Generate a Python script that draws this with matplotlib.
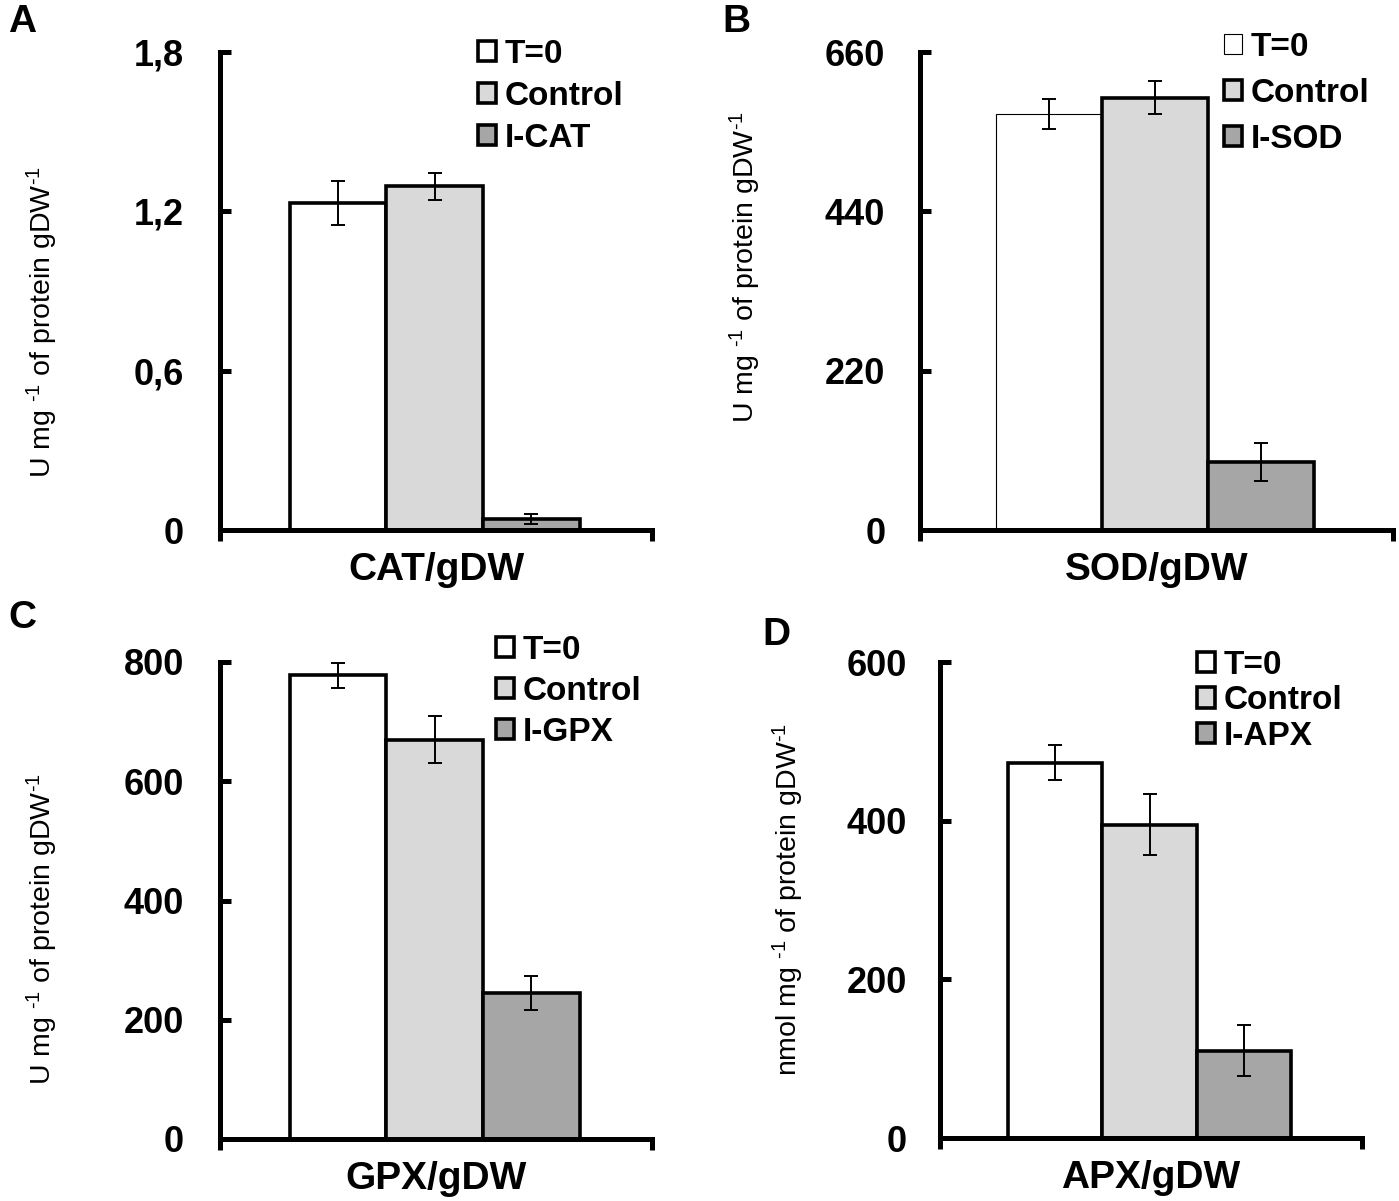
import matplotlib
matplotlib.use("Agg")
import matplotlib.pyplot as plt

# ---- data ----
groups = ["T=0", "Control"]
cat_mean = [1.23, 1.295, 0.042]
cat_err = [0.083, 0.051, 0.02]
sod_mean = [574, 597, 94]
sod_err = [21, 23, 26]
gpx_mean = [778, 670, 245]
gpx_err = [21, 40, 29]
apx_mean = [473, 395, 110]
apx_err = [22, 38, 32]

cat_ticks = [0, 0.6, 1.2, 1.8]
cat_ticklabels = ["0", "0,6", "1,2", "1,8"]
sod_ticks = [0, 220, 440, 660]
gpx_ticks = [0, 200, 400, 600, 800]
apx_ticks = [0, 200, 400, 600]

W, H = 1399, 1201
COLORS = ["#ffffff", "#d9d9d9", "#a6a6a6"]
FONT = "Liberation Sans"

plt.rcParams.update({
    "font.family": FONT,
    "mathtext.fontset": "custom",
    "mathtext.rm": FONT,
    "mathtext.it": FONT + ":italic",
    "mathtext.bf": FONT + ":bold",
})

fig = plt.figure(figsize=(W / 100, H / 100), dpi=100)
fig.patch.set_facecolor("white")

U_LABEL = r"U mg $^{\text{-1}}$ of protein gDW$^{\text{-1}}$"
N_LABEL = r"nmol mg $^{\text{-1}}$ of protein gDW$^{\text{-1}}$"

# rect in pixels: left, top, right, bottom ; legend anchor px ; ylabel coords
panels = [
    dict(letter="A", letter_xy=(8, 22), rect=(220, 52, 652, 530), mean=cat_mean, err=cat_err,
         ticks=cat_ticks, ticklabels=cat_ticklabels, third="I-CAT", xlabel="CAT/gDW",
         ylabel=U_LABEL, ylab_xy=(-0.41, 0.435), leg=(478, 39), lspace=0.33, pad=26,
         edge=[2.6, 2.6, 2.6]),
    dict(letter="B", letter_xy=(722, 22), rect=(920, 52, 1393, 530), mean=sod_mean, err=sod_err,
         ticks=sod_ticks, ticklabels=[str(t) for t in sod_ticks], third="I-SOD", xlabel="SOD/gDW",
         ylabel=U_LABEL, ylab_xy=(-0.37, 0.55), leg=(1224, 32), lspace=0.45, pad=25,
         edge=[0.8, 2.6, 2.6]),
    dict(letter="C", letter_xy=(8, 618), rect=(220, 662, 652, 1139), mean=gpx_mean, err=gpx_err,
         ticks=gpx_ticks, ticklabels=[str(t) for t in gpx_ticks], third="I-GPX", xlabel="GPX/gDW",
         ylabel=U_LABEL, ylab_xy=(-0.41, 0.44), leg=(496, 635), lspace=0.30, pad=26,
         edge=[2.6, 2.6, 2.6]),
    dict(letter="D", letter_xy=(762, 635), rect=(940, 662, 1362, 1138), mean=apx_mean, err=apx_err,
         ticks=apx_ticks, ticklabels=[str(t) for t in apx_ticks], third="I-APX", xlabel="APX/gDW",
         ylabel=N_LABEL, ylab_xy=(-0.36, 0.50), leg=(1197, 650), lspace=0.13, pad=24,
         edge=[2.6, 2.6, 2.6]),
]

for p in panels:
    l, t, r, b = p["rect"]
    ax = fig.add_axes([l / W, 1 - b / H, (r - l) / W, (b - t) / H])
    labels = groups + [p["third"]]
    x = range(len(labels))
    bars = ax.bar(x, p["mean"], width=1.0, color=COLORS, edgecolor="black",
                  linewidth=p["edge"], zorder=2, label=labels)
    ax.errorbar(x, p["mean"], yerr=p["err"], fmt="none", ecolor="black",
                elinewidth=1.4, capsize=5, capthick=1.4, zorder=3)

    ax.set_xlim(-1.22, 3.25)
    ax.set_ylim(p["ticks"][0], p["ticks"][-1])
    ax.set_yticks(p["ticks"])
    ax.set_yticklabels(p["ticklabels"], fontsize=26, fontweight="bold")
    ax.tick_params(axis="y", direction="in", length=8, width=3.6, pad=p["pad"])
    ax.set_xticks([-1.22, 3.25])
    ax.set_xticklabels([])
    ax.tick_params(axis="x", direction="out", length=8, width=3.6)

    for s in ("top", "right"):
        ax.spines[s].set_visible(False)
    for s in ("left", "bottom"):
        ax.spines[s].set_linewidth(3.6)
        ax.spines[s].set_capstyle("projecting")

    ax.set_xlabel(p["xlabel"], fontsize=28, fontweight="bold", labelpad=4)
    ax.set_ylabel(p["ylabel"], fontsize=20.5)
    ax.yaxis.label.set_verticalalignment("center")
    ax.yaxis.set_label_coords(*p["ylab_xy"])

    lx, ly = p["leg"]
    ax.legend(handles=list(bars), labels=labels, loc="upper left",
              bbox_to_anchor=(lx / W, 1 - ly / H), bbox_transform=fig.transFigure,
              frameon=False, borderpad=0, borderaxespad=0,
              handlelength=0.55, handleheight=0.55, handletextpad=0.25,
              labelspacing=p["lspace"], prop={"weight": "bold", "size": 24})

    fig.text(p["letter_xy"][0] / W, 1 - p["letter_xy"][1] / H, p["letter"],
             fontsize=28, fontweight="bold", ha="left", va="center")

fig.savefig("out.png", dpi=100, facecolor="white")
